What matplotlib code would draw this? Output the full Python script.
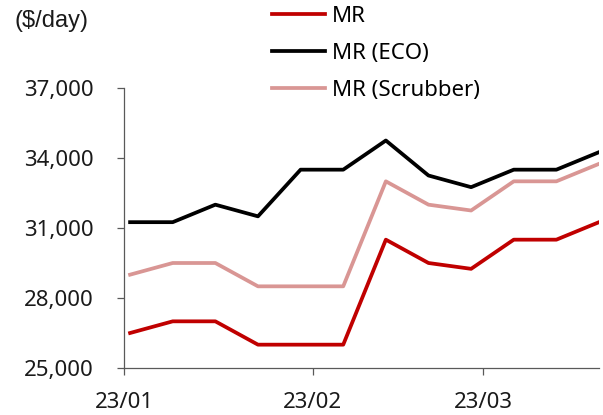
import matplotlib
matplotlib.use("Agg")
import matplotlib.pyplot as plt
import matplotlib.dates as mdates
import pandas as pd

plt.rcParams["font.family"] = ["Noto Sans", "DejaVu Sans"]

# weekly charter rates, $/day
dates = pd.date_range("2023-01-02", periods=12, freq="7D")
mr = [26500, 27000, 27000, 26000, 26000, 26000, 30500, 29500, 29250, 30500, 30500, 31250]
mr_eco = [31250, 31250, 32000, 31500, 33500, 33500, 34750, 33250, 32750, 33500, 33500, 34250]
mr_scrubber = [29000, 29500, 29500, 28500, 28500, 28500, 33000, 32000, 31750, 33000, 33000, 33750]

W, H = 603, 415
fig = plt.figure(figsize=(W / 100, H / 100), dpi=100)
ax = fig.add_axes([124 / W, 47 / H, 475 / W, 280 / H])

ax.plot(dates, mr, color="#C00000", lw=2.7, label="MR")
ax.plot(dates, mr_eco, color="black", lw=2.7, label="MR (ECO)")
ax.plot(dates, mr_scrubber, color="#D99694", lw=2.7, label="MR (Scrubber)")

ax.set_ylim(25000, 37000)
ax.set_yticks(range(25000, 37001, 3000))
ax.yaxis.set_major_formatter(matplotlib.ticker.StrMethodFormatter("{x:,.0f}"))
ax.set_xlim(pd.Timestamp("2023-01-01"), pd.Timestamp("2023-03-20"))
ax.xaxis.set_major_locator(mdates.MonthLocator())
ax.xaxis.set_major_formatter(mdates.DateFormatter("%y/%m"))

for side in ("top", "right"):
    ax.spines[side].set_visible(False)
for side in ("left", "bottom"):
    ax.spines[side].set_color("#595959")
    ax.spines[side].set_linewidth(0.9)
ax.tick_params(axis="both", direction="out", length=5, width=0.9, color="#595959",
               labelsize=16, labelcolor="#1a1a1a")
ax.tick_params(axis="y", pad=17)
ax.tick_params(axis="x", pad=12)

fig.text(15 / W, 1 - 21 / H, "($/day)", fontsize=17, va="center", ha="left",
         color="#1a1a1a", family="Liberation Sans")

fig.legend(loc="upper left", bbox_to_anchor=(272 / W, 1 - 6 / H), frameon=False,
           fontsize=16, handlelength=2.4, handletextpad=0.28, labelspacing=0.72,
           borderaxespad=0, borderpad=0)

fig.savefig("out.png", dpi=100)
